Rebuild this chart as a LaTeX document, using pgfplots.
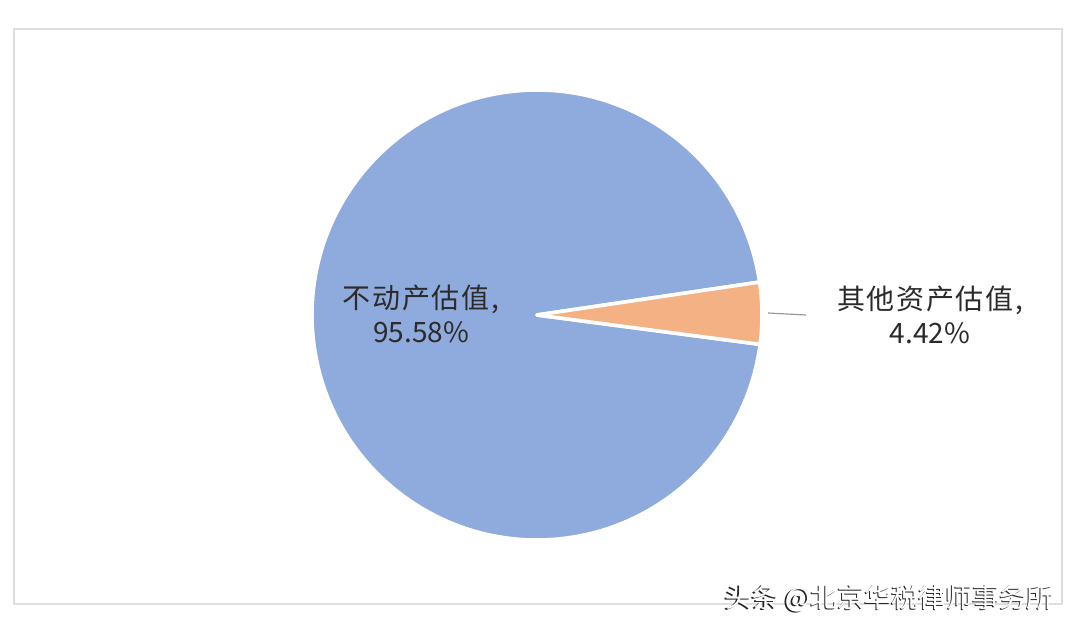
\documentclass[border=0pt]{standalone}
\usepackage{pgfplots}
\pgfplotsset{compat=1.18}
\usepackage{pgfplotstable}
\usepackage{fontspec}
\setmainfont{Noto Sans CJK SC}
\newfontfamily\cjkwide[LetterSpace=6]{Noto Sans CJK SC}
\definecolor{pieblue}{HTML}{8FAADC}
\definecolor{pieorange}{HTML}{F4B183}
\definecolor{txt}{HTML}{2B2B2B}

% share of each slice, in percent
\pgfplotstableread[col sep=comma]{
name,value
other,4.42
realestate,95.58
}\piedata

\begin{document}
\begin{tikzpicture}
\pgfplotstablegetelem{0}{value}\of\piedata \let\vOther\pgfplotsretval
\pgfplotstablegetelem{1}{value}\of\piedata \let\vReal\pgfplotsretval
\pgfmathsetmacro{\aStart}{-7.5}
\pgfmathsetmacro{\aMid}{\aStart+3.6*\vOther}
\pgfmathsetmacro{\aEnd}{\aMid+3.6*\vReal}
\begin{axis}[
    x=0.5pt, y=0.5pt,
    xmin=0, xmax=1078, ymin=0, ymax=628,
    scale only axis, hide axis, clip=false,
]
\fill[white] (axis cs:0,0) rectangle (axis cs:1078,628);
\draw[black!13, line width=0.7pt] (axis cs:14,24) rectangle (axis cs:1062,599);

% slices
\filldraw[fill=pieblue, draw=white, line width=1.8pt, line join=round]
    (axis cs:537,313) -- ++(\aMid:112.5pt)
    arc[start angle=\aMid, end angle=\aEnd, radius=112.5pt] -- cycle;
\filldraw[fill=pieorange, draw=white, line width=1.8pt, line join=round]
    (axis cs:537,313) -- ++(\aStart:112.5pt)
    arc[start angle=\aStart, end angle=\aMid, radius=112.5pt] -- cycle;

% leader line
\draw[black!40, line width=0.6pt] (axis cs:768,315) -- (axis cs:806,313);

% labels
\node[text=txt, font=\fontsize{14pt}{17pt}\selectfont, align=center]
    at (axis cs:421,314) {{\cjkwide 不动产估值,}\\95.58\%};
\node[text=txt, font=\fontsize{14pt}{17pt}\selectfont, align=center]
    at (axis cs:930,313) {{\cjkwide 其他资产估值,}\\4.42\%};

% watermark
\node[text=black!85, font=\fontsize{13.5pt}{15pt}\selectfont, anchor=east]
    at ([xshift=-0.7pt,yshift=-0.7pt]axis cs:1061,30) {头条 @北京华税律师事务所};
\node[text=white, font=\fontsize{13.5pt}{15pt}\selectfont, anchor=east]
    at (axis cs:1061,30) {头条 @北京华税律师事务所};
\end{axis}
\end{tikzpicture}
\end{document}
